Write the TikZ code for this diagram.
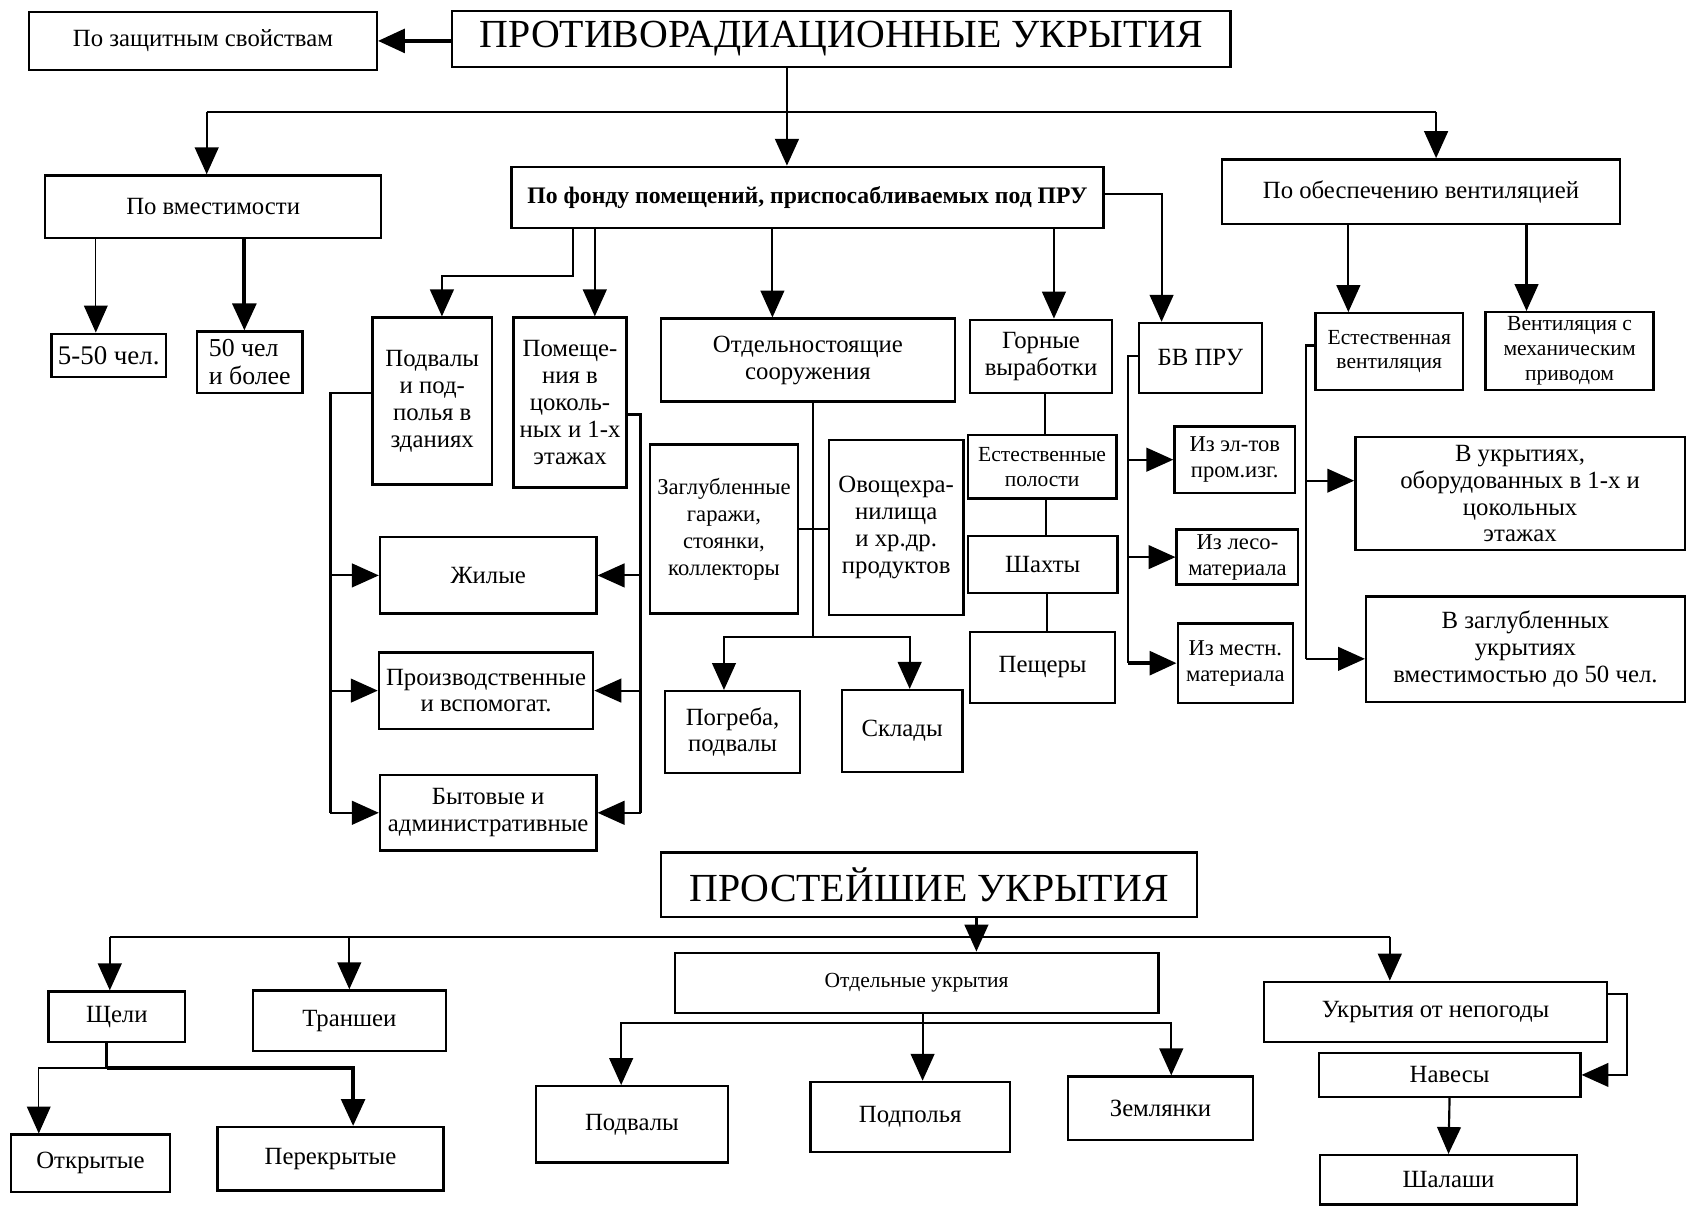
\documentclass[tikz,border=0pt]{standalone}
\usepackage{fontspec}
\setmainfont{Liberation Serif}
\usetikzlibrary{arrows.meta}

\tikzset{
  box/.style = {draw, line width=2.2pt, rectangle, inner sep=1pt, align=center,
                font=\fontsize{23}{25}\selectfont},
  big/.style = {font=\fontsize{37}{40}\selectfont},
  conn/.style = {line width=2pt},
  arr/.style = {line width=2pt, -{Triangle[length=25pt, width=22pt]}},
  thickarr/.style = {arr, line width=3.5pt},
}

\begin{document}
\begin{tikzpicture}[x=1pt, y=-1pt]
\useasboundingbox (0,0) rectangle (1568,1120);

% top
\node[box, big, minimum width=723, minimum height=52] (title) at (781.5,36) {ПРОТИВОРАДИАЦИОННЫЕ УКРЫТИЯ};
\node[box, minimum width=323, minimum height=54] (prot) at (188.5,38) {По защитным свойствам};
\node[box, minimum width=312, minimum height=58] (cap) at (198,192) {По вместимости};
\node[box, minimum width=550, minimum height=57, font=\fontsize{22}{25}\selectfont\bfseries] (fund) at (750,183.5) {По фонду помещений, приспосабливаемых под ПРУ};
\node[box, minimum width=370, minimum height=60] (vent) at (1320,178) {По обеспечению вентиляцией};

\node[box, minimum width=106, minimum height=40, font=\fontsize{25}{27}\selectfont] (c550) at (101,330) {5-50 чел.};
\node[box, minimum width=98, minimum height=57, align=left, font=\fontsize{24}{26}\selectfont] (c50) at (232,336.5) {50 чел\\и более};

\node[box, minimum width=111, minimum height=155] (podv) at (401.5,372.5) {Подвалы\\и под-\\полья в\\зданиях};
\node[box, minimum width=105, minimum height=158] (pomesh) at (529.5,374) {Помеще-\\ния в\\цоколь-\\ных и 1-х\\этажах};
\node[box, minimum width=273, minimum height=77] (otdel) at (750.5,334.5) {Отдельностоящие\\сооружения};
\node[box, minimum width=132, minimum height=68] (gorn) at (967,331) {Горные\\выработки};
\node[box, minimum width=114, minimum height=65] (bv) at (1115,332.5) {БВ ПРУ};
\node[box, minimum width=137, minimum height=71, font=\fontsize{20}{23}\selectfont] (estv) at (1290.5,326.5) {Естественная\\вентиляция};
\node[box, minimum width=156, minimum height=72, font=\fontsize{20}{23}\selectfont] (mech) at (1458,326) {Вентиляция с\\механическим\\приводом};

% middle
\node[box, minimum width=201, minimum height=71] (zhil) at (453.5,534.5) {Жилые};
\node[box, minimum width=199, minimum height=71] (proizv) at (451.5,641.5) {Производственные\\и вспомогат.};
\node[box, minimum width=201, minimum height=70] (byt) at (453.5,755) {Бытовые и\\административные};

\node[box, minimum width=137, minimum height=157, font=\fontsize{21}{25}\selectfont] (zagl) at (672.5,491.5) {Заглубленные\\гаражи,\\стоянки,\\коллекторы};
\node[box, minimum width=125, minimum height=162] (ovosch) at (832.5,490) {Овощехра-\\нилища\\и хр.др.\\продуктов};
\node[box, minimum width=125, minimum height=76] (pogr) at (680.5,680) {Погреба,\\подвалы};
\node[box, minimum width=112, minimum height=76] (sklad) at (838,679) {Склады};

\node[box, minimum width=138, minimum height=59, font=\fontsize{20}{23}\selectfont] (polost) at (968,433.5) {Естественные\\полости};
\node[box, minimum width=139, minimum height=53] (shakh) at (968.5,524.5) {Шахты};
\node[box, minimum width=135, minimum height=66] (pesch) at (968.5,620) {Пещеры};

\node[box, minimum width=112, minimum height=62, font=\fontsize{21}{24}\selectfont] (izel) at (1147,427) {Из эл-тов\\пром.изг.};
\node[box, minimum width=113, minimum height=51, font=\fontsize{21}{24}\selectfont] (izles) at (1149.5,517.5) {Из лесо-\\материала};
\node[box, minimum width=107, minimum height=74, font=\fontsize{21}{24}\selectfont] (izmest) at (1147.5,616) {Из местн.\\материала};

\node[box, minimum width=306, minimum height=105] (vukr) at (1412,458.5) {В укрытиях,\\оборудованных в 1-х и\\цокольных\\этажах};
\node[box, minimum width=296, minimum height=98] (vzagl) at (1417,603) {В заглубленных\\укрытиях\\вместимостью до 50 чел.};

% bottom
\node[box, big, minimum width=498, minimum height=60] (title2) at (863,822) {ПРОСТЕЙШИЕ УКРЫТИЯ};
\node[box, minimum width=449, minimum height=56, font=\fontsize{20}{23}\selectfont] (otdu) at (851.5,913) {Отдельные укрытия};
\node[box, minimum width=127, minimum height=47] (scheli) at (108.5,944.5) {Щели};
\node[box, minimum width=179, minimum height=56] (transh) at (324.5,948) {Траншеи};
\node[box, minimum width=148, minimum height=53] (otkr) at (84,1080.5) {Открытые};
\node[box, minimum width=210, minimum height=59] (perekr) at (307,1076.5) {Перекрытые};
\node[box, minimum width=178, minimum height=71] (podv2) at (587,1044.5) {Подвалы};
\node[box, minimum width=185, minimum height=65] (podp) at (845.5,1037.5) {Подполья};
\node[box, minimum width=172, minimum height=59] (zeml) at (1078,1029.5) {Землянки};
\node[box, minimum width=319, minimum height=56] (nepog) at (1333.5,940) {Укрытия от непогоды};
\node[box, minimum width=243, minimum height=41] (naves) at (1346.5,998.5) {Навесы};
\node[box, minimum width=239, minimum height=46] (shal) at (1345.5,1096) {Шалаши};

% junctions
\coordinate (jt) at (731,104);
\coordinate (hl) at (192,104);
\coordinate (hr) at (1334,104);
\coordinate (f1) at (532,256);
\coordinate (lb) at (307,365);
\coordinate (rb) at (595,385);
\coordinate (os) at (755,592);
\coordinate (bb) at (1048,331);
\coordinate (eb) at (1213,321);
\coordinate (bl) at (102,870);
\coordinate (br) at (1291,870);
\coordinate (sj) at (99,992);
\coordinate (oj) at (857,950);

% top connectors
\draw[thickarr] (prot.east -| title.west) -- (prot.east);
\draw[arr, line width=2.6pt] (title.south -| jt) -- (fund.north -| jt);
\draw[conn] (hl) -- (hr);
\draw[arr] (hl) -- (hl |- cap.north);
\draw[arr] (hr) -- (hr |- vent.north);
\draw[arr, line width=1.2pt] ([xshift=-12pt]c550.north |- cap.south) -- ([xshift=-12pt]c550.north);
\draw[thickarr] ([xshift=-5pt]c50.north |- cap.south) -- ([xshift=-5pt]c50.north);

\draw[arr] (fund.south -| f1) -- (f1) -| ([xshift=9pt]podv.north);
\draw[arr] ([xshift=23pt]pomesh.north |- fund.south) -- ([xshift=23pt]pomesh.north);
\draw[arr] ([xshift=-33pt]otdel.north |- fund.south) -- ([xshift=-33pt]otdel.north);
\draw[arr] ([xshift=12pt]gorn.north |- fund.south) -- ([xshift=12pt]gorn.north);
\draw[arr] ([yshift=3pt]fund.east) -| ([xshift=-36pt]bv.north);
\draw[arr] ([xshift=-38pt]estv.north |- vent.south) -- ([xshift=-38pt]estv.north);
\draw[arr] ([xshift=-40pt]mech.north |- vent.south) -- ([xshift=-40pt]mech.north);

% room types
\draw[conn] (podv.west |- lb) -- (lb) -- (lb |- byt.west);
\draw[arr] (lb |- zhil.west) -- (zhil.west);
\draw[arr] (lb |- proizv.west) -- (proizv.west);
\draw[arr] (lb |- byt.west) -- (byt.west);
\draw[conn] (pomesh.east |- rb) -- (rb) -- (rb |- byt.east);
\draw[arr] (rb |- zhil.east) -- (zhil.east);
\draw[arr] (rb |- proizv.east) -- (proizv.east);
\draw[arr] (rb |- byt.east) -- (byt.east);

% separate buildings
\draw[conn] (otdel.south -| os) -- (os);
\draw[conn] (zagl.east) -- (zagl.east -| ovosch.west);
\draw[arr] (os) -| ([xshift=-8pt]pogr.north);
\draw[arr] (os) -| ([xshift=7pt]sklad.north);

% mines
\draw[conn] ([xshift=4pt]gorn.south) -- ([xshift=4pt]gorn.south |- polost.north);
\draw[conn] ([xshift=4pt]polost.south) -- ([xshift=4pt]polost.south |- shakh.north);
\draw[conn] ([xshift=4pt]shakh.south) -- ([xshift=4pt]shakh.south |- pesch.north);

% BV PRU
\draw[conn] (bv.west |- bb) -- (bb) -- (bb |- izmest.west);
\draw[arr] (bb |- izel.west) -- (izel.west);
\draw[arr] (bb |- izles.west) -- (izles.west);
\draw[thickarr] (bb |- izmest.west) -- (izmest.west);

% ventilation
\draw[conn] (estv.west |- eb) -- (eb) -- ([yshift=-9pt]eb |- vzagl.west);
\draw[arr] ([yshift=12pt]eb |- vukr.west) -- ([yshift=12pt]vukr.west);
\draw[arr] ([yshift=-9pt]eb |- vzagl.west) -- ([yshift=-9pt]vzagl.west);

% simplest shelters
\draw[arr] ([xshift=44pt]title2.south) -- ([xshift=44pt]title2.south |- otdu.north);
\draw[conn] (bl) -- (br);
\draw[arr] (bl) -- (bl |- scheli.north);
\draw[arr] (transh.north |- bl) -- (transh.north);
\draw[arr] (br) -- (br |- nepog.north);

\draw[conn, line width=2.8pt] (scheli.south -| sj) -- (sj);
\draw[arr, line width=1.2pt] (sj) -| ([xshift=-48pt]otkr.north);
\draw[thickarr] (sj) -| ([xshift=21pt]perekr.north);

\draw[conn] (otdu.south -| oj) -- (oj);
\draw[arr] (oj) -| ([xshift=-10pt]podv2.north);
\draw[arr] (oj) -- (oj |- podp.north);
\draw[arr] (oj) -| ([xshift=10pt]zeml.north);

\draw[arr] ([yshift=17pt]nepog.east) -- ++(17,0) |- (naves.east);
\draw[arr] (naves.south) -- (shal.north);
\end{tikzpicture}
\end{document}
